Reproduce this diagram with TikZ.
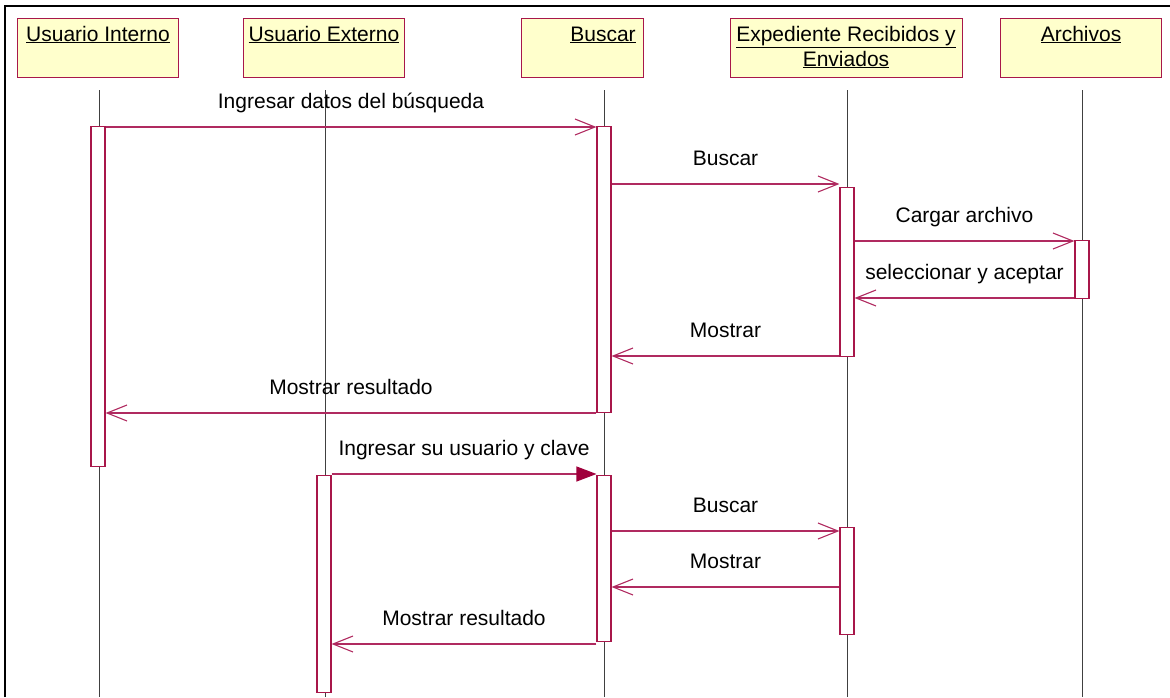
\documentclass[tikz,border=0pt]{standalone}
\usepackage{fontspec}
\setmainfont{Liberation Sans}
\usetikzlibrary{arrows.meta}
\definecolor{umlred}{HTML}{A8174A}
\definecolor{msgred}{HTML}{B02A60}
\definecolor{umlfill}{HTML}{FFFFCC}
\definecolor{lifegray}{HTML}{404040}
\definecolor{headred}{HTML}{A0003C}
\begin{document}
\begin{tikzpicture}[x=1pt,y=-1pt,
  font=\fontsize{21}{25}\selectfont,
  actor/.style={draw=umlred, fill=umlfill, line width=1.1pt, minimum height=59pt, anchor=north west, inner sep=0pt},
  hdr/.style={anchor=base, inner sep=0pt, align=center},
  life/.style={draw=lifegray, line width=0.9pt},
  act/.style={draw=umlred, fill=white, line width=1.1pt, minimum width=14pt, inner sep=0pt, anchor=north},
  msg/.style={draw=msgred, line width=1.1pt, -{Straight Barb[length=20pt,width=16pt,line width=1.1pt]}},
  msgf/.style={draw=msgred, line width=1.1pt, -{Triangle[length=20pt,width=15pt,fill=headred,color=headred]}},
  lbl/.style={pos=0.5, anchor=base, yshift=19pt, inner sep=0pt, text=black},
  frame/.style={draw=black, line width=1.5pt}]
\useasboundingbox (0,0) rectangle (1170,697);
% frame
\coordinate (f1) at (5,697);
\coordinate (f2) at (5,6);
\coordinate (f3) at (1170,6);
\draw[frame] (f1) -- (f2) -- (f3);
% header boxes
\node[actor, minimum width=161pt] (hUI) at (17,18) {};
\node[actor, minimum width=161pt] (hUE) at (243,18) {};
\node[actor, minimum width=122pt] (hB) at (521,18) {};
\node[actor, minimum width=232pt] (hE) at (730,18) {};
\node[actor, minimum width=161pt] (hA) at (1000,18) {};
\node[hdr] (tUI) at (98,41) {\underline{Usuario Interno}};
\node[hdr] (tUE) at (324,41) {\underline{Usuario Externo}};
\node[hdr] (tB) at (603,41) {\underline{Buscar}};
\node[hdr] (tE) at (846,41) {\underline{Expediente Recibidos y}};
\node[hdr] (tE2) at (846,66) {\underline{Enviados}};
\node[hdr] (tA) at (1081,41) {\underline{Archivos}};
% lifelines
\coordinate (sUI) at (99,90);  \coordinate (eUI) at (99,697);
\coordinate (sUE) at (325,90); \coordinate (eUE) at (325,697);
\coordinate (sB) at (604,90);  \coordinate (eB) at (604,697);
\coordinate (sE) at (847,90);  \coordinate (eE) at (847,697);
\coordinate (sA) at (1082,90); \coordinate (eA) at (1082,697);
\draw[life] (sUI) -- (eUI);
\draw[life] (sUE) -- (eUE);
\draw[life] (sB) -- (eB);
\draw[life] (sE) -- (eE);
\draw[life] (sA) -- (eA);
% activations
\node[act, minimum height=340pt] (aUI) at (98,126) {};
\node[act, minimum height=286pt] (aB1) at (604,126) {};
\node[act, minimum height=169pt] (aE1) at (847,187) {};
\node[act, minimum height=58pt] (aA) at (1082,240) {};
\node[act, minimum height=217pt] (aUE) at (324,475) {};
\node[act, minimum height=166pt] (aB2) at (604,475) {};
\node[act, minimum height=107pt] (aE2) at (847,527) {};
% message levels
\coordinate (y1) at (0,127);
\coordinate (y2) at (0,184);
\coordinate (y3) at (0,241);
\coordinate (y4) at (0,298);
\coordinate (y5) at (0,356);
\coordinate (y6) at (0,413);
\coordinate (y7) at (0,474);
\coordinate (y8) at (0,531);
\coordinate (y9) at (0,587);
\coordinate (y10) at (0,644);
% messages
\draw[msg] (aUI.east |- y1) -- (aB1.west |- y1) node[lbl] (m1) {Ingresar datos del búsqueda};
\draw[msg] (aB1.east |- y2) -- (aE1.west |- y2) node[lbl] (m2) {Buscar};
\draw[msg] (aE1.east |- y3) -- (aA.west |- y3) node[lbl] (m3) {Cargar archivo};
\draw[msg] (aA.west |- y4) -- (aE1.east |- y4) node[lbl] (m4) {seleccionar y aceptar};
\draw[msg] (aE1.west |- y5) -- (aB1.east |- y5) node[lbl] (m5) {Mostrar};
\draw[msg] (aB1.west |- y6) -- (aUI.east |- y6) node[lbl] (m6) {Mostrar resultado};
\draw[msgf] (aUE.east |- y7) -- (aB2.west |- y7) node[lbl] (m7) {Ingresar su usuario y clave};
\draw[msg] (aB2.east |- y8) -- (aE2.west |- y8) node[lbl] (m8) {Buscar};
\draw[msg] (aE2.west |- y9) -- (aB2.east |- y9) node[lbl] (m9) {Mostrar};
\draw[msg] (aB2.west |- y10) -- (aUE.east |- y10) node[lbl] (m10) {Mostrar resultado};
\end{tikzpicture}
\end{document}
